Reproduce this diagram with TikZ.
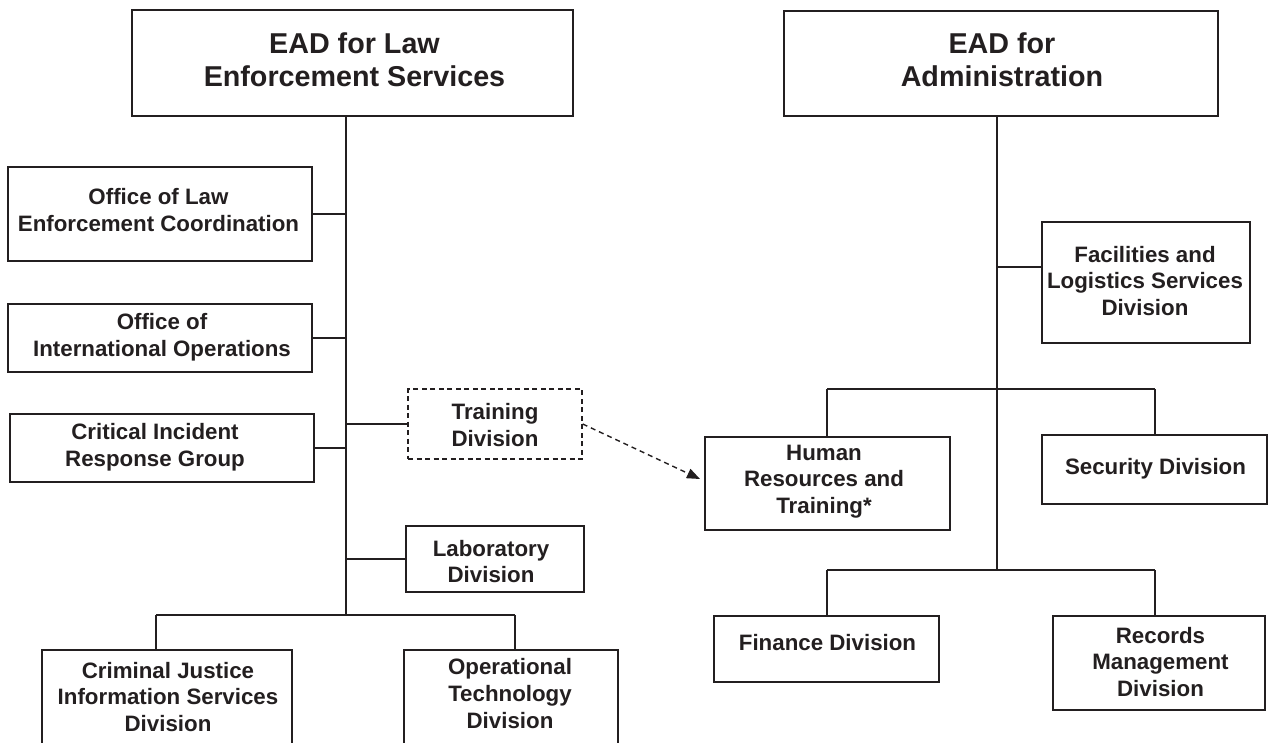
\documentclass[tikz,border=0pt]{standalone}
\usepackage{fontspec}
\setmainfont{Liberation Sans}
\usetikzlibrary{arrows.meta}
\definecolor{ink}{HTML}{231F20}
\begin{document}
\begin{tikzpicture}[x=1pt,y=-1pt,
  box/.style={draw=ink, line width=1.5pt, rectangle, inner sep=0pt},
  dbox/.style={box, line width=1.4pt, dash pattern=on 5pt off 3.5pt},
  lbl/.style={text=ink, font=\bfseries\fontsize{22.3}{26.8}\selectfont, align=center, inner sep=0pt},
  ttl/.style={text=ink, font=\bfseries\fontsize{28.7}{33.5}\selectfont, align=center, inner sep=0pt},
  link/.style={draw=ink, line width=1.5pt},
  dlink/.style={draw=ink, line width=1.4pt, dash pattern=on 5pt off 4pt, -{Triangle[length=13pt,width=10pt]}}
]
\useasboundingbox (0,0) rectangle (1271,743);
\fill[white] (0,0) rectangle (1271,743);

% boxes
\node[box, minimum width=441pt, minimum height=106pt] (law) at (352.5,63) {};
\node[box, minimum width=304pt, minimum height=94pt] (ola) at (160,214) {};
\node[box, minimum width=304pt, minimum height=68pt] (oio) at (160,338) {};
\node[box, minimum width=304pt, minimum height=68pt] (cirg) at (162,448) {};
\node[dbox, minimum width=174pt, minimum height=70pt] (trn) at (495,424) {};
\node[box, minimum width=178pt, minimum height=66pt] (lab) at (495,559) {};
\node[box, minimum width=250pt, minimum height=98pt] (cjis) at (167,699) {};
\node[box, minimum width=214pt, minimum height=98pt] (op) at (511,699) {};
\node[box, minimum width=434pt, minimum height=105pt] (adm) at (1001,63.5) {};
\node[box, minimum width=208pt, minimum height=121pt] (fac) at (1146,282.5) {};
\node[box, minimum width=245pt, minimum height=93pt] (hr) at (827.5,483.5) {};
\node[box, minimum width=225pt, minimum height=69pt] (sec) at (1154.5,469.5) {};
\node[box, minimum width=225pt, minimum height=66pt] (fin) at (826.5,649) {};
\node[box, minimum width=212pt, minimum height=94pt] (rec) at (1159,663) {};

% texts
\node[ttl] (lawt) at (354.5,59.5) {EAD for Law\\Enforcement Services};
\node[ttl] (admt) at (1002,59.5) {EAD for\\Administration};
\node[lbl] (olat) at (158.5,210) {Office of Law\\Enforcement Coordination};
\node[lbl] (oiot) at (162,337) {Office of\\International Operations};
\node[lbl] (cirgt) at (155,447) {Critical Incident\\Response Group};
\node[lbl] (trnt) at (495,425) {Training\\Division};
\node[lbl] (labt) at (491,561.5) {Laboratory\\Division};
\node[lbl] (cjist) at (168,697) {Criminal Justice\\Information Services\\Division};
\node[lbl] (opt) at (510,693.5) {Operational\\Technology\\Division};
\node[lbl] (fact) at (1145,281) {Facilities and\\Logistics Services\\Division};
\node[lbl] (hrt) at (824,481.5) {Human\\Resources and\\Training*};
\node[lbl] (sect) at (1155.5,469) {Security Division};
\node[lbl] (fint) at (827.5,643) {Finance Division};
\node[lbl] (rect) at (1160.5,662) {Records\\Management\\Division};

% junction coordinates
\coordinate (ltop) at (346,116);
\coordinate (lbus) at (346,615);
\coordinate (lbl) at (156,615);
\coordinate (lbr) at (515,615);
\coordinate (rtop) at (997,116);
\coordinate (facj) at (997,267);
\coordinate (rul) at (827,389);
\coordinate (rur) at (1155,389);
\coordinate (rlb) at (997,570);
\coordinate (rll) at (827,570);
\coordinate (rlr) at (1155,570);
\coordinate (hrin) at (700,479);

% left tree
\draw[link] (ltop) -- (lbus);
\draw[link] (ola.east) -- (ola.east -| ltop);
\draw[link] (oio.east) -- (oio.east -| ltop);
\draw[link] (cirg.east) -- (cirg.east -| ltop);
\draw[link] (trn.west) -- (trn.west -| ltop);
\draw[link] (lab.west) -- (lab.west -| ltop);
\draw[link] (lbl) -- (lbr);
\draw[link] (lbl) -- (lbl |- cjis.north);
\draw[link] (lbr) -- (lbr |- op.north);

% right tree
\draw[link] (rtop) -- (rlb);
\draw[link] (facj) -- (facj -| fac.west);
\draw[link] (rul) -- (rur);
\draw[link] (rul) -- (rul |- hr.north);
\draw[link] (rur) -- (rur |- sec.north);
\draw[link] (rll) -- (rlr);
\draw[link] (rll) -- (rll |- fin.north);
\draw[link] (rlr) -- (rlr |- rec.north);

% dashed arrow
\draw[dlink] (trn.east) -- (hrin);
\end{tikzpicture}
\end{document}
